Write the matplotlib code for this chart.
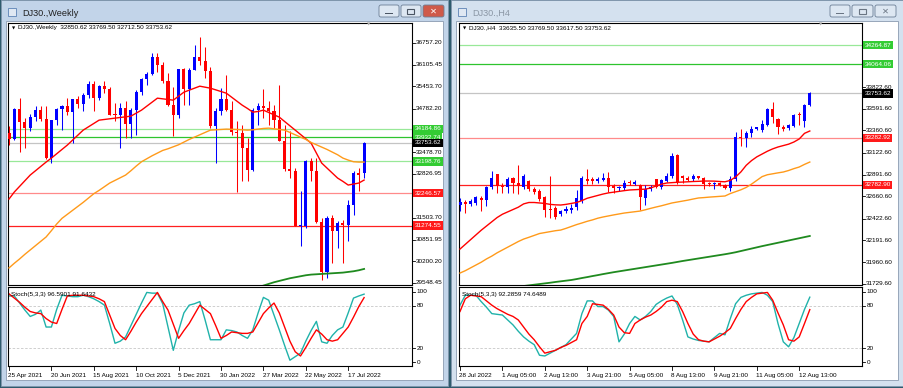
import numpy as np
import matplotlib
matplotlib.use('Agg')
import matplotlib.pyplot as plt
from matplotlib.patches import Rectangle, FancyBboxPatch

plt.rcParams['font.family'] = ['Liberation Sans', 'DejaVu Sans']

# ---------------- left window: DJ30 weekly ----------------
w_dates = ['25 Apr 2021', '20 Jun 2021', '15 Aug 2021', '10 Oct 2021', '5 Dec 2021',
           '30 Jan 2022', '27 Mar 2022', '22 May 2022', '17 Jul 2022']
w_open = [34040, 33874, 34778, 34382, 34208, 34529, 34756, 34479, 33290, 34433,
          34786, 34870, 34687, 35061, 34935, 35208, 35515, 35120, 35455, 35369,
          34607, 34584, 34798, 34326, 34746, 35295, 35677, 35820, 36328, 36100,
          35602, 34899, 34580, 35971, 35365, 35950, 36338, 36231, 35912, 34265,
          34725, 35089, 34738, 34079, 34059, 33614, 32944, 34755, 34861, 34818,
          34721, 34451, 33811, 32977, 32899, 31262, 31262, 33213, 32900, 31393,
          29889, 31501, 31097, 31338, 31289, 31899, 32845, 32850.62]
w_high = [34260, 34811, 35090, 34500, 34630, 34850, 34850, 34850, 34450, 34800,
          34900, 35100, 35080, 35170, 35260, 35630, 35630, 35500, 35630, 35450,
          34950, 34950, 35000, 34800, 35350, 35700, 35900, 36450, 36450, 36200,
          35850, 35450, 35990, 36000, 36000, 36700, 36952, 36650, 36050, 34800,
          35400, 35800, 35000, 34400, 34300, 33900, 34800, 34950, 35370, 35000,
          34900, 35500, 34300, 34100, 33000, 32300, 33250, 33300, 33300, 31500,
          31550, 31600, 31400, 31450, 32050, 32900, 33000, 33769.50]
w_low = [33700, 33840, 33473, 33600, 34100, 34400, 34400, 33270, 33150, 34300,
         34150, 34600, 33740, 34800, 34700, 35100, 34700, 35050, 35250, 34600,
         34400, 33613, 33900, 33900, 34000, 35200, 35500, 35800, 35900, 35550,
         34850, 33970, 34500, 34900, 34900, 35950, 36100, 35700, 34200, 33150,
         34600, 34700, 34000, 32272, 32600, 32600, 32900, 34300, 34500, 34300,
         34200, 33800, 32900, 32700, 31250, 30650, 31200, 32600, 31350, 29650,
         29700, 30150, 30600, 30140, 30800, 31600, 32300, 32712.50]
w_close = [33874, 34778, 34382, 34208, 34529, 34756, 34479, 33290, 34433, 34786,
           34870, 34687, 35061, 34935, 35208, 35515, 35120, 35455, 35369, 34607,
           34584, 34798, 34326, 34746, 35295, 35677, 35820, 36328, 36100, 35602,
           34899, 34580, 35971, 35365, 35950, 36338, 36231, 35912, 34265, 34725,
           35089, 34738, 34079, 34059, 33614, 32944, 34755, 34861, 34818, 34721,
           34451, 33811, 32977, 32899, 31262, 31262, 33213, 32900, 31393, 29889,
           31501, 31097, 31338, 31289, 31899, 32845, 32803, 33753.62]
w_ma_fast = [32070, 32280, 32450, 32620, 32790, 32920, 33050, 33180, 33300, 33430,
             33560, 33690, 33840, 33990, 34140, 34240, 34340, 34440, 34460, 34480,
             34500, 34520, 34540, 34560, 34650, 34740, 34860, 34980, 35100, 35080,
             35060, 35040, 35160, 35280, 35340, 35400, 35460, 35430, 35400, 35350,
             35300, 35250, 35130, 35010, 34890, 34790, 34680, 34700, 34740, 34670,
             34600, 34530, 34400, 34270, 34140, 34010, 33880, 33750, 33450, 33150,
             33000, 32850, 32700, 32600, 32490, 32520, 32550, 32640]
w_ma_mid = [30000, 30140, 30270, 30410, 30540, 30670, 30800, 30930, 31120, 31320,
            31490, 31610, 31730, 31850, 31970, 32100, 32230, 32330, 32440, 32550,
            32630, 32710, 32790, 32920, 33060, 33190, 33280, 33370, 33450, 33530,
            33580, 33640, 33700, 33780, 33860, 33930, 34000, 34070, 34140, 34150,
            34160, 34170, 34165, 34160, 34150, 34140, 34150, 34170, 34190, 34200,
            34180, 34160, 34140, 34070, 34000, 33930, 33860, 33770, 33700, 33630,
            33560, 33480, 33400, 33300, 33240, 33190, 33180, 33180]
w_ma_slow_start = 48
w_ma_slow = [29470, 29520, 29570, 29610, 29650, 29690, 29720, 29750, 29780, 29800,
             29810, 29820, 29830, 29840, 29850, 29860, 29880, 29900, 29930, 29970]
w_levels = [34184.86, 33932.74, 33753.62, 33198.76, 32246.57, 31274.55]
w_ticks = [36757.20, 36105.45, 35453.70, 34782.20, 33478.70, 32826.95,
           31503.70, 30851.95, 30200.20, 29548.45]
w_k = [94, 94, 84, 74, 65, 68, 74, 50, 50, 75, 95, 94, 93, 93, 95, 93, 90, 86, 81, 55,
       27, 30, 36, 52, 68, 84, 99, 98, 98, 83, 50, 17, 45, 70, 81, 83, 86, 60, 32, 32,
       32, 46, 45, 43, 38, 34, 46, 70, 92, 88, 67, 46, 24, 3, 8, 13, 30, 45, 58, 29,
       27, 38, 46, 50, 70, 91, 94, 96.59]
w_d = [97, 91, 85, 78, 72, 70, 69, 62, 57, 55, 75, 94, 95, 95, 95, 94, 93, 90, 86, 67,
       48, 38, 32, 44, 57, 69, 79, 89, 99, 86, 74, 54, 34, 45, 55, 68, 81, 75, 69, 52,
       34, 38, 43, 42, 41, 41, 43, 56, 69, 77, 84, 70, 50, 30, 15, 9, 21, 34, 46, 40,
       32, 30, 32, 41, 50, 64, 79, 91.64]

# ---------------- right window: DJ30 H4 ----------------
h_dates = ['28 Jul 2022', '1 Aug 05:00', '2 Aug 13:00', '3 Aug 21:00', '5 Aug 05:00',
           '8 Aug 13:00', '9 Aug 21:00', '11 Aug 05:00', '12 Aug 13:00']
h_open = [32570, 32600, 32580, 32590, 32640, 32620, 32760, 32895, 32770, 32760,
          32860, 32800, 32760, 32820, 32740, 32720, 32650, 32530, 32540, 32470,
          32500, 32520, 32550, 32610, 32840, 32840, 32820, 32830, 32860, 32770,
          32745, 32750, 32810, 32790, 32780, 32640, 32740, 32840, 32760, 32820,
          32880, 33100, 32870, 32860, 32840, 32870, 32860, 32800, 32790, 32800,
          32780, 32750, 32840, 33290, 33280, 33330, 33380, 33370, 33420, 33590,
          33480, 33400, 33390, 33410, 33530, 33460, 33635.50]
h_high = [32640, 32620, 32630, 32660, 32660, 32770, 32930, 32900, 32800, 32870,
          32870, 32990, 32900, 32830, 32760, 32740, 32660, 32880, 32560, 32520,
          32560, 32580, 32730, 32880, 32950, 32870, 32870, 32910, 32920, 32790,
          32770, 32830, 32830, 32830, 32790, 32780, 32780, 32850, 32850, 32910,
          33120, 33110, 32890, 32880, 32900, 32880, 32870, 32810, 32810, 32810,
          32790, 32880, 33340, 33380, 33350, 33410, 33400, 33470, 33600, 33660,
          33490, 33420, 33430, 33540, 33560, 33640, 33769.50]
h_low = [32500, 32480, 32560, 32570, 32500, 32560, 32740, 32700, 32700, 32700,
         32700, 32690, 32740, 32720, 32690, 32610, 32440, 32430, 32420, 32450,
         32480, 32480, 32520, 32590, 32790, 32790, 32800, 32820, 32710, 32700,
         32720, 32730, 32780, 32780, 32520, 32570, 32720, 32750, 32740, 32810,
         32860, 32790, 32800, 32820, 32820, 32840, 32740, 32770, 32740, 32770,
         32740, 32720, 32820, 33200, 33180, 33290, 33370, 33340, 33410, 33440,
         33320, 33360, 33370, 33400, 33420, 33400, 33617.50]
h_close = [32600, 32580, 32610, 32650, 32625, 32760, 32860, 32770, 32760, 32850,
           32800, 32770, 32880, 32740, 32710, 32630, 32520, 32510, 32440, 32500,
           32530, 32540, 32640, 32860, 32820, 32820, 32850, 32860, 32760, 32750,
           32755, 32800, 32800, 32810, 32650, 32740, 32760, 32760, 32830, 32880,
           33090, 32810, 32860, 32830, 32880, 32860, 32790, 32790, 32800, 32780,
           32750, 32840, 33290, 33280, 33330, 33380, 33385, 33430, 33590, 33500,
           33400, 33380, 33420, 33530, 33520, 33630, 33753.62]
h_ma_fast = [32100, 32150, 32200, 32250, 32300, 32345, 32390, 32435, 32470, 32495,
             32520, 32545, 32580, 32595, 32595, 32590, 32585, 32575, 32570, 32568,
             32575, 32585, 32595, 32615, 32640, 32655, 32670, 32685, 32697, 32705,
             32713, 32721, 32728, 32731, 32734, 32737, 32750, 32770, 32790, 32802,
             32806, 32810, 32812, 32815, 32818, 32820, 32823, 32823, 32822, 32818,
             32815, 32830, 32866, 32920, 32990, 33040, 33080, 33110, 33140, 33165,
             33185, 33200, 33215, 33238, 33270, 33330, 33355]
h_ma_mid = [31845, 31870, 31900, 31930, 31960, 31995, 32025, 32060, 32090, 32120,
            32150, 32180, 32206, 32225, 32245, 32265, 32275, 32285, 32295, 32302,
            32320, 32340, 32360, 32377, 32395, 32410, 32428, 32441, 32452, 32463,
            32473, 32483, 32490, 32497, 32504, 32518, 32533, 32547, 32560, 32575,
            32590, 32600, 32610, 32620, 32632, 32643, 32647, 32652, 32656, 32660,
            32664, 32690, 32710, 32730, 32755, 32790, 32830, 32870, 32890, 32900,
            32910, 32919, 32935, 32955, 32972, 33000, 33025]
h_ma_slow_start = 12
h_ma_slow = [31707, 31714, 31721, 31728, 31735, 31742, 31750, 31757, 31764, 31771,
             31781, 31792, 31802, 31813, 31823, 31834, 31844, 31854, 31863, 31872,
             31881, 31890, 31899, 31908, 31917, 31926, 31935, 31944, 31953, 31963,
             31973, 31982, 31991, 32000, 32009, 32018, 32027, 32036, 32045, 32055,
             32066, 32079, 32092, 32105, 32118, 32131, 32143, 32155, 32167, 32179,
             32191, 32203, 32215, 32227, 32239]
h_levels = [34264.87, 34064.06, 33753.62, 33282.92, 32782.90]
h_ticks = [33822.60, 33591.60, 33360.60, 33122.60, 32891.60, 32660.60, 32422.60,
           32191.60, 31960.60, 31729.60]
h_k = [81, 95, 95, 95, 86, 78, 69, 68, 67, 60, 53, 44, 36, 30, 25, 10, 9, 13, 17, 21,
       25, 33, 41, 69, 87, 87, 79, 79, 74, 65, 29, 40, 55, 65, 60, 65, 72, 82, 87, 91,
       94, 82, 60, 36, 33, 31, 30, 29, 35, 41, 39, 62, 83, 92, 95, 97, 98, 99, 95, 86,
       55, 29, 22, 35, 55, 75, 92.29]
h_d = [72, 90, 95, 94, 93, 87, 81, 76, 72, 68, 65, 60, 50, 40, 32, 22, 13, 15, 17, 21,
       24, 28, 32, 55, 65, 83, 82, 81, 75, 67, 50, 42, 41, 55, 60, 64, 67, 72, 78, 86,
       88, 86, 72, 55, 40, 32, 30, 29, 33, 37, 42, 48, 62, 75, 86, 92, 97, 98, 99, 88,
       70, 53, 32, 30, 36, 55, 74.65]

W, H = 904, 388
STEP = 5.3          # pixels per bar
FS = 4.6            # small MT4 label font


def frac(l, t, r, b):
    return [l / W, 1 - b / H, (r - l) / W, (b - t) / H]


fig = plt.figure(figsize=(W / 100, H / 100), dpi=100)
fig.patch.set_facecolor('#2e5b6d')
bg = fig.add_axes([0, 0, 1, 1], zorder=-5)
bg.set_xlim(0, W)
bg.set_ylim(H, 0)
bg.axis('off')


def window(l, r, title, active, btn_x):
    frame = '#c2d4e9' if active else '#d4e1ef'
    bg.add_patch(Rectangle((l, 0), r - l, 386, fc=frame, ec='#8196ad', lw=0.6))
    bg.add_patch(Rectangle((l + 5, 21), r - l - 10, 359, fc='white', ec='#8a9bb0', lw=0.6))
    # little window icon
    bg.add_patch(Rectangle((l + 7, 8), 8, 8, fc='#dfe8f3', ec='#5d83b5', lw=0.6))
    bg.text(l + 21, 13, title, fontsize=6.6, va='center',
            color='#202020' if active else '#8a96a4')
    glyph_col = '#4a5563' if active else '#6a7583'
    for j, (bx, bw) in enumerate(btn_x):
        close_red = active and j == 2
        bg.add_patch(FancyBboxPatch((bx, 5), bw, 12,
                                    boxstyle='round,pad=0,rounding_size=2',
                                    fc='#cf5a4a' if close_red else '#dde7f2',
                                    ec='#6b7e95', lw=0.6))
        cx = bx + bw / 2
        if j == 0:
            bg.add_patch(Rectangle((cx - 4, 12.5), 8, 1.6, fc=glyph_col, ec='none'))
        elif j == 1:
            bg.add_patch(Rectangle((cx - 3.5, 8.5), 7, 5.5, fc='none', ec=glyph_col, lw=0.8))
        else:
            bg.text(cx, 11.2, '✕', fontsize=6, ha='center', va='center',
                    color='white' if close_red else glyph_col, fontweight='bold',
                    family=['DejaVu Sans'])


window(1, 448, 'DJ30.,Weekly', True, [(379, 20), (401, 20), (423, 21)])
window(451, 903, 'DJ30.,H4', False, [(830, 20), (852, 21), (875, 21)])

LEVEL_STYLE = {'lightgreen': ('#98e898', '#33cc33'), 'green': ('#2ec42e', '#33cc33'),
               'price': ('#c4c4c4', '#000000'), 'lightred': ('#ff8a8a', '#ff1a1a'),
               'red': ('#ff2020', '#ff1a1a')}


def chart(l, r, o, h, lo, c, fast, mid, slow, slow_start, levels, kinds, ticks,
          ylim, k, d, stoch_text, dates, header, marker_x):
    n = len(c)
    x = np.arange(n)
    xl = (-1 / STEP, (r - l - 1) / STEP)

    ax = fig.add_axes(frac(l, 23, r, 285))
    ax.set_xlim(*xl)
    ax.set_ylim(*ylim)
    ax.set_xticks([])
    ax.set_yticks([])
    for s in ax.spines.values():
        s.set_linewidth(0.8)
        s.set_color('black')

    yt = ax.get_yaxis_transform()
    for v, kind in zip(levels, kinds):
        lc, _ = LEVEL_STYLE[kind]
        ax.axhline(v, color=lc, lw=0.9, zorder=1)

    o, h, lo, c = map(np.asarray, (o, h, lo, c))
    up = c >= o
    cols = np.where(up, '#0000ff', '#ff0000')
    ax.vlines(x, lo, h, colors=cols, lw=0.75, zorder=3)
    body = np.maximum(np.abs(c - o), (ylim[1] - ylim[0]) / 262 * 1.2)
    ax.bar(x, body, bottom=np.minimum(o, c), width=0.6, color=cols, lw=0, zorder=4)

    ax.plot(x, fast, color='#ff0000', lw=1.0, zorder=5)
    ax.plot(x, mid, color='#ff9a1a', lw=1.0, zorder=5)
    ax.plot(np.arange(slow_start, slow_start + len(slow)), slow, color='#1f8a1f', lw=1.3, zorder=5)

    for v in ticks:
        ax.plot([1, 1.008], [v, v], transform=yt, color='k', lw=0.6, clip_on=False)
        ax.text(1.009, v, f'{v:.2f}', transform=yt, fontsize=FS, va='center', ha='left')
    for v, kind in zip(levels, kinds):
        _, bc = LEVEL_STYLE[kind]
        ax.text(1.006, v, f'{v:.2f}', transform=yt, fontsize=FS, va='center', ha='left',
                color='white', zorder=10,
                bbox=dict(boxstyle='square,pad=0.25', fc=bc, ec='none'))

    # stochastic sub-window
    sx = fig.add_axes(frac(l, 287, r, 366))
    sx.set_xlim(*xl)
    sx.set_ylim(-5.2, 106.7)
    sx.set_xticks([])
    sx.set_yticks([])
    for s in sx.spines.values():
        s.set_linewidth(0.8)
        s.set_color('black')
    for lvl in (80, 20):
        sx.axhline(lvl, color='#c8c8c8', lw=0.6, ls=(0, (3, 2)))
    sx.plot(x, k, color='#20b2aa', lw=1.0)
    sx.plot(x, d, color='#ff0000', lw=1.0)
    st = sx.get_yaxis_transform()
    for v in (100, 80, 20, 0):
        sx.plot([1, 1.008], [v, v], transform=st, color='k', lw=0.6, clip_on=False)
        sx.text(1.012, v, str(v), transform=st, fontsize=FS, va='center', ha='left')
    sx.text(0.008, 0.905, stoch_text, transform=sx.transAxes, fontsize=FS, va='center')

    xt = sx.get_xaxis_transform()
    for i, lab in enumerate(dates):
        b = i * 8
        sx.plot([b, b], [0, -0.05], transform=xt, color='k', lw=0.6, clip_on=False)
        sx.text(b - 0.1, -0.085, lab, transform=xt, fontsize=FS, va='top', ha='left')

    fig.text((l + 4) / W, 1 - 28 / H, '▼', fontsize=3, va='center', family=['DejaVu Sans'])
    fig.text((l + 10) / W, 1 - 28 / H, header, fontsize=FS, va='center')
    fig.text(marker_x / W, 1 - 25 / H, '▼', fontsize=3.2, va='center', ha='center',
             color='#a8a8a8', family=['DejaVu Sans'])


chart(8, 412, w_open, w_high, w_low, w_close, w_ma_fast, w_ma_mid, w_ma_slow,
      w_ma_slow_start, w_levels,
      ['lightgreen', 'green', 'price', 'lightgreen', 'lightred', 'red'],
      w_ticks, (29487.5, 37358.0), w_k, w_d, 'Stoch(5,3,3) 96.5901 91.6432', w_dates,
      'DJ30.,Weekly  32850.62 33769.50 32712.50 33753.62', 369)

chart(459, 862, h_open, h_high, h_low, h_close, h_ma_fast, h_ma_mid, h_ma_slow,
      h_ma_slow_start, h_levels,
      ['lightgreen', 'green', 'price', 'lightred', 'red'],
      h_ticks, (31717.9, 34503.0), h_k, h_d, 'Stoch(5,3,3) 92.2859 74.6489', h_dates,
      'DJ30.,H4  33635.50 33769.50 33617.50 33753.62', 821)

fig.savefig('out.png', dpi=100, facecolor=fig.get_facecolor())
